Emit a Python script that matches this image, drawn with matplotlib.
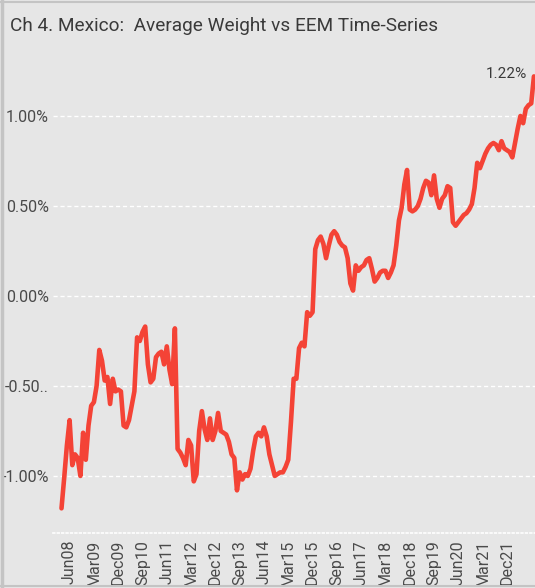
import matplotlib
matplotlib.use('Agg')
import matplotlib.pyplot as plt
from matplotlib.lines import Line2D

plt.rcParams['font.family'] = ['Roboto', 'DejaVu Sans']

# monthly series, Mar08 -> Oct22 (index 0 = Mar08)
weight = [-1.18, -1.01, -0.83, -0.69, -0.94, -0.88, -0.90, -1.00, -0.76, -0.91,
          -0.72, -0.61, -0.59, -0.50, -0.30, -0.36, -0.47, -0.45, -0.60, -0.46,
          -0.53, -0.52, -0.53, -0.72, -0.73, -0.69, -0.61, -0.53, -0.23, -0.25,
          -0.20, -0.17, -0.38, -0.48, -0.46, -0.34, -0.32, -0.31, -0.38, -0.28,
          -0.41, -0.49, -0.18, -0.85, -0.87, -0.90, -0.94, -0.80, -0.83, -1.03,
          -0.99, -0.75, -0.64, -0.74, -0.80, -0.68, -0.80, -0.75, -0.65, -0.75,
          -0.76, -0.77, -0.81, -0.88, -0.90, -1.08, -0.98, -1.02, -0.99, -1.00,
          -0.96, -0.86, -0.78, -0.76, -0.78, -0.73, -0.78, -0.88, -0.94, -1.00,
          -0.99, -0.98, -0.98, -0.95, -0.91, -0.70, -0.46, -0.46, -0.29, -0.26,
          -0.28, -0.09, -0.11, -0.09, 0.26, 0.31, 0.33, 0.29, 0.21, 0.28,
          0.34, 0.36, 0.34, 0.30, 0.28, 0.27, 0.21, 0.07, 0.03, 0.17,
          0.14, 0.16, 0.17, 0.20, 0.21, 0.15, 0.08, 0.10, 0.13, 0.14,
          0.14, 0.10, 0.13, 0.17, 0.28, 0.42, 0.49, 0.62, 0.70, 0.48,
          0.47, 0.48, 0.50, 0.54, 0.60, 0.64, 0.63, 0.56, 0.67, 0.54,
          0.49, 0.54, 0.56, 0.61, 0.60, 0.41, 0.39, 0.41, 0.43, 0.45,
          0.46, 0.48, 0.51, 0.60, 0.74, 0.71, 0.75, 0.79, 0.82, 0.84,
          0.85, 0.84, 0.81, 0.86, 0.82, 0.81, 0.80, 0.77, 0.85, 0.93,
          1.00, 0.96, 1.04, 1.06, 1.07, 1.22]
months = list(range(len(weight)))

tick_labels = ['Jun08', 'Mar09', 'Dec09', 'Sep10', 'Jun11', 'Mar12', 'Dec12',
               'Sep13', 'Jun14', 'Mar15', 'Dec15', 'Sep16', 'Jun17', 'Mar18',
               'Dec18', 'Sep19', 'Jun20', 'Mar21', 'Dec21']
tick_pos = [3 + 9 * i for i in range(len(tick_labels))]
ytick_vals = [1.0, 0.5, 0.0, -0.5, -1.0]
ytick_labels = ['1.00%', '0.50%', '0.00%', '-0.50..', '-1.00%']

bg = '#e6e6e6'
red = '#f44336'

fig = plt.figure(figsize=(5.35, 5.88), dpi=100)
fig.patch.set_facecolor(bg)

# panel border (left, top, bottom)
fig.add_artist(Line2D([0.004, 0.004], [0, 1], color='#c4c4c4', lw=2.5))
fig.add_artist(Line2D([0, 1], [0.997, 0.997], color='#c4c4c4', lw=1.5))
fig.add_artist(Line2D([0, 1], [0.003, 0.003], color='#c4c4c4', lw=1.5))

fig.text(10 / 535, 1 - 26 / 588, 'Ch 4. Mexico:  Average Weight vs EEM Time-Series',
         ha='left', va='center', fontsize=13.7, color='#3a3a3a')

ax = fig.add_axes([53 / 535, 55 / 588, 482 / 535, (533 - 62) / 588])
ax.set_facecolor(bg)

ax.plot(months, weight, color=red, lw=3.3, solid_joinstyle='round', solid_capstyle='round')
ax.annotate('1.22%', (months[-1], weight[-1]), xytext=(-7, 2), textcoords='offset pixels',
            ha='right', va='center', fontsize=11, color='#3a3a3a')

ax.set_xlim(-3.15, 175.4)
ax.set_ylim(-1.317, 1.30)

ax.set_yticks(ytick_vals)
ax.set_yticklabels(ytick_labels)
ax.set_xticks(tick_pos)
ax.set_xticklabels(tick_labels, rotation=90)
ax.tick_params(length=0, labelsize=11.5, labelcolor='#4a4a4a')
ax.tick_params(axis='y', pad=3)
ax.tick_params(axis='x', pad=5)

for v in ytick_vals:
    ax.axhline(v, color='white', lw=1, ls=(0, (3, 2)), zorder=0)

for s in ['top', 'right', 'left']:
    ax.spines[s].set_visible(False)
ax.spines['bottom'].set_color('white')
ax.spines['bottom'].set_linestyle(':')
ax.spines['bottom'].set_linewidth(1.2)

plt.savefig('out.png', dpi=100, facecolor=bg)
